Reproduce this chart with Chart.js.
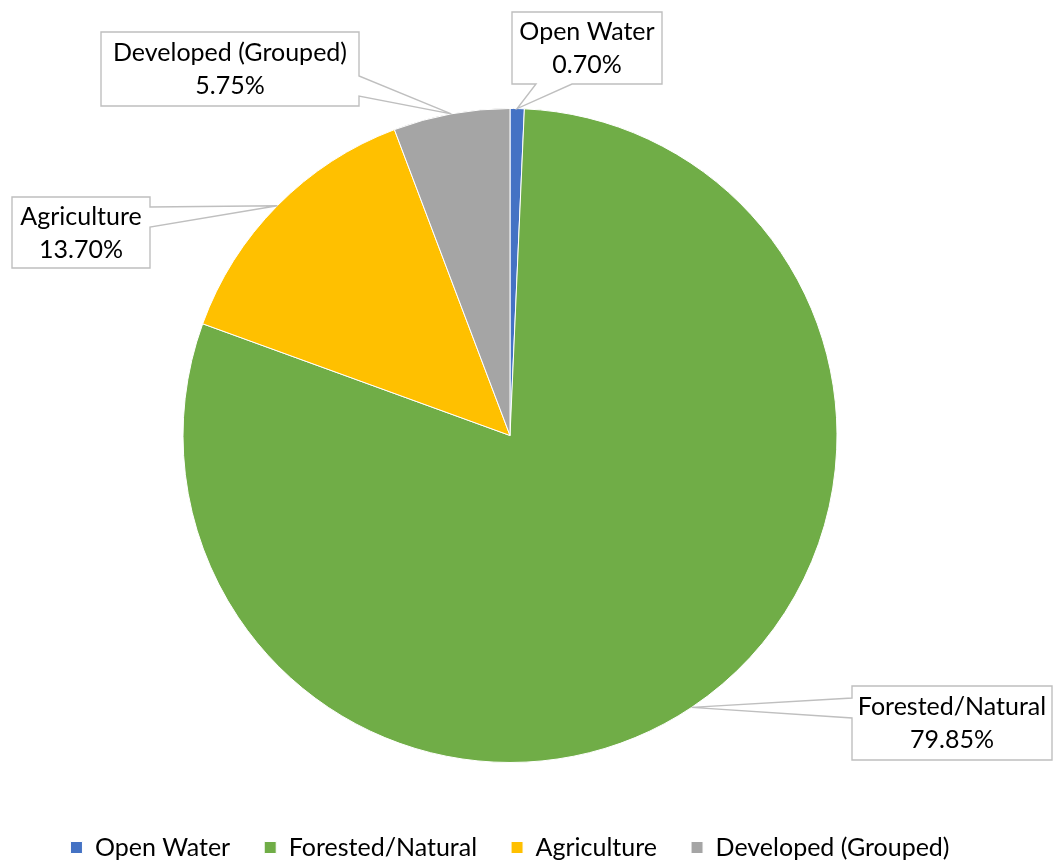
<!DOCTYPE html>
<html>
<head>
<meta charset="utf-8">
<script src="https://cdn.jsdelivr.net/npm/chart.js@4"></script>
<style>
  body { margin: 0; background: #fff; }
  canvas { display: block; }
</style>
</head>
<body>
<canvas id="pieChart" width="1053" height="865"></canvas>
<script>
// land cover shares (percent)
const categories = ["Open Water", "Forested/Natural", "Agriculture", "Developed (Grouped)"];
const shares = [0.70, 79.85, 13.70, 5.75];
const colors = ["#4472C4", "#70AD47", "#FFC000", "#A5A5A5"];

// callout boxes: position of each label box and where its pointer leaves the box
const callouts = [
  { x: 512, y: 12, w: 150, h: 72, side: "bottom", base: [24, 60] },
  { x: 852, y: 686, w: 200, h: 74, side: "left", base: [12, 32] },
  { x: 12, y: 197, w: 138, h: 71, side: "right", base: [10, 30] },
  { x: 101, y: 32, w: 258, h: 74, side: "right", base: [44, 64] },
];

const fontFamily = "Lato, 'Open Sans', sans-serif";

const calloutPlugin = {
  id: "callouts",
  afterDatasetsDraw(chart) {
    const ctx = chart.ctx;
    const meta = chart.getDatasetMeta(0);
    const data = chart.data.datasets[0].data;
    const total = data.reduce((a, b) => a + b, 0);
    meta.data.forEach((arc, i) => {
      const c = callouts[i];
      const p = arc.getProps(["x", "y", "startAngle", "endAngle", "outerRadius"], true);
      const mid = (p.startAngle + p.endAngle) / 2;
      const tx = p.x + Math.cos(mid) * p.outerRadius;
      const ty = p.y + Math.sin(mid) * p.outerRadius;

      ctx.save();
      ctx.beginPath();
      ctx.moveTo(c.x, c.y);
      ctx.lineTo(c.x + c.w, c.y);
      if (c.side === "right") {
        ctx.lineTo(c.x + c.w, c.y + c.base[0]);
        ctx.lineTo(tx, ty);
        ctx.lineTo(c.x + c.w, c.y + c.base[1]);
      }
      ctx.lineTo(c.x + c.w, c.y + c.h);
      if (c.side === "bottom") {
        ctx.lineTo(c.x + c.base[1], c.y + c.h);
        ctx.lineTo(tx, ty);
        ctx.lineTo(c.x + c.base[0], c.y + c.h);
      }
      ctx.lineTo(c.x, c.y + c.h);
      if (c.side === "left") {
        ctx.lineTo(c.x, c.y + c.base[1]);
        ctx.lineTo(tx, ty);
        ctx.lineTo(c.x, c.y + c.base[0]);
      }
      ctx.closePath();
      ctx.fillStyle = "#ffffff";
      ctx.fill();
      ctx.strokeStyle = "#bfbfbf";
      ctx.lineWidth = 1.4;
      ctx.stroke();

      ctx.fillStyle = "#000000";
      ctx.font = "25px " + fontFamily;
      ctx.textAlign = "center";
      ctx.textBaseline = "middle";
      const cx = c.x + c.w / 2;
      const cy = c.y + c.h / 2;
      ctx.fillText(chart.data.labels[i], cx, cy - 16);
      ctx.fillText((data[i] / total * 100).toFixed(2) + "%", cx, cy + 17);
      ctx.restore();
    });
  },
};

new Chart(document.getElementById("pieChart"), {
  type: "pie",
  data: {
    labels: categories,
    datasets: [
      {
        label: "Land Cover",
        data: shares,
        backgroundColor: colors,
        borderColor: "#ffffff",
        borderWidth: 1,
        hoverOffset: 0,
      },
    ],
  },
  options: {
    responsive: false,
    animation: false,
    layout: {
      padding: { top: 108, left: 0, right: 33, bottom: -5 },
    },
    plugins: {
      tooltip: { enabled: false },
      legend: {
        position: "bottom",
        title: {
          display: true,
          text: "",
          font: { size: 10 },
          padding: { top: 26, bottom: 0 },
        },
        labels: {
          color: "#000000",
          boxWidth: 12,
          boxHeight: 12,
          padding: 34,
          font: { family: fontFamily, size: 25 },
        },
      },
    },
  },
  plugins: [calloutPlugin],
});
</script>
</body>
</html>
